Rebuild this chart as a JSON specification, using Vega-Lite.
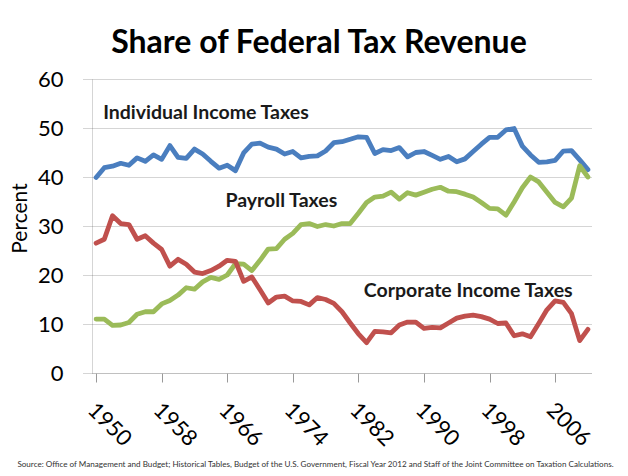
{
  "$schema": "https://vega.github.io/schema/vega-lite/v6.json",
  "description": "Share of federal tax revenue by source, 1950-2010.",
  "width": 500,
  "height": 294,
  "autosize": "none",
  "padding": {"left": 92, "top": 79, "right": 36, "bottom": 103},
  "background": "white",
  "config": {"font": "Lato", "view": {"stroke": null}},
  "title": {
    "text": "Share of Federal Tax Revenue",
    "fontSize": 32,
    "fontWeight": "bold",
    "color": "#000000",
    "anchor": "middle",
    "baseline": "alphabetic",
    "offset": 25,
    "dx": -23,
    "dy": 42
  },
  "layer": [
    {
      "data": {
        "values": [
          {"year": 1950, "Individual": 39.9, "Payroll": 11.0, "Corporate": 26.5},
          {"year": 1951, "Individual": 41.9, "Payroll": 11.0, "Corporate": 27.3},
          {"year": 1952, "Individual": 42.2, "Payroll": 9.7, "Corporate": 32.1},
          {"year": 1953, "Individual": 42.8, "Payroll": 9.8, "Corporate": 30.5},
          {"year": 1954, "Individual": 42.4, "Payroll": 10.3, "Corporate": 30.3},
          {"year": 1955, "Individual": 43.9, "Payroll": 12.0, "Corporate": 27.3},
          {"year": 1956, "Individual": 43.2, "Payroll": 12.5, "Corporate": 28.0},
          {"year": 1957, "Individual": 44.5, "Payroll": 12.5, "Corporate": 26.5},
          {"year": 1958, "Individual": 43.6, "Payroll": 14.1, "Corporate": 25.2},
          {"year": 1959, "Individual": 46.4, "Payroll": 14.8, "Corporate": 21.8},
          {"year": 1960, "Individual": 44.0, "Payroll": 15.9, "Corporate": 23.2},
          {"year": 1961, "Individual": 43.8, "Payroll": 17.4, "Corporate": 22.2},
          {"year": 1962, "Individual": 45.7, "Payroll": 17.1, "Corporate": 20.6},
          {"year": 1963, "Individual": 44.7, "Payroll": 18.6, "Corporate": 20.3},
          {"year": 1964, "Individual": 43.2, "Payroll": 19.5, "Corporate": 20.9},
          {"year": 1965, "Individual": 41.8, "Payroll": 19.1, "Corporate": 21.8},
          {"year": 1966, "Individual": 42.4, "Payroll": 20.0, "Corporate": 23.0},
          {"year": 1967, "Individual": 41.3, "Payroll": 22.3, "Corporate": 22.8},
          {"year": 1968, "Individual": 44.9, "Payroll": 22.2, "Corporate": 18.7},
          {"year": 1969, "Individual": 46.7, "Payroll": 20.9, "Corporate": 19.6},
          {"year": 1970, "Individual": 46.9, "Payroll": 23.0, "Corporate": 17.0},
          {"year": 1971, "Individual": 46.1, "Payroll": 25.3, "Corporate": 14.3},
          {"year": 1972, "Individual": 45.7, "Payroll": 25.4, "Corporate": 15.5},
          {"year": 1973, "Individual": 44.7, "Payroll": 27.3, "Corporate": 15.7},
          {"year": 1974, "Individual": 45.2, "Payroll": 28.5, "Corporate": 14.7},
          {"year": 1975, "Individual": 43.9, "Payroll": 30.3, "Corporate": 14.6},
          {"year": 1976, "Individual": 44.2, "Payroll": 30.5, "Corporate": 13.9},
          {"year": 1977, "Individual": 44.3, "Payroll": 29.9, "Corporate": 15.4},
          {"year": 1978, "Individual": 45.3, "Payroll": 30.3, "Corporate": 15.0},
          {"year": 1979, "Individual": 47.0, "Payroll": 30.0, "Corporate": 14.2},
          {"year": 1980, "Individual": 47.2, "Payroll": 30.5, "Corporate": 12.5},
          {"year": 1981, "Individual": 47.7, "Payroll": 30.5, "Corporate": 10.2},
          {"year": 1982, "Individual": 48.2, "Payroll": 32.6, "Corporate": 8.0},
          {"year": 1983, "Individual": 48.1, "Payroll": 34.8, "Corporate": 6.2},
          {"year": 1984, "Individual": 44.8, "Payroll": 35.9, "Corporate": 8.5},
          {"year": 1985, "Individual": 45.6, "Payroll": 36.1, "Corporate": 8.4},
          {"year": 1986, "Individual": 45.4, "Payroll": 36.9, "Corporate": 8.2},
          {"year": 1987, "Individual": 46.0, "Payroll": 35.5, "Corporate": 9.8},
          {"year": 1988, "Individual": 44.1, "Payroll": 36.8, "Corporate": 10.4},
          {"year": 1989, "Individual": 45.0, "Payroll": 36.3, "Corporate": 10.4},
          {"year": 1990, "Individual": 45.2, "Payroll": 36.9, "Corporate": 9.1},
          {"year": 1991, "Individual": 44.4, "Payroll": 37.5, "Corporate": 9.3},
          {"year": 1992, "Individual": 43.6, "Payroll": 37.9, "Corporate": 9.2},
          {"year": 1993, "Individual": 44.2, "Payroll": 37.1, "Corporate": 10.2},
          {"year": 1994, "Individual": 43.1, "Payroll": 37.0, "Corporate": 11.2},
          {"year": 1995, "Individual": 43.7, "Payroll": 36.5, "Corporate": 11.6},
          {"year": 1996, "Individual": 45.2, "Payroll": 35.9, "Corporate": 11.8},
          {"year": 1997, "Individual": 46.7, "Payroll": 34.8, "Corporate": 11.5},
          {"year": 1998, "Individual": 48.1, "Payroll": 33.6, "Corporate": 11.0},
          {"year": 1999, "Individual": 48.1, "Payroll": 33.5, "Corporate": 10.1},
          {"year": 2000, "Individual": 49.6, "Payroll": 32.2, "Corporate": 10.2},
          {"year": 2001, "Individual": 49.9, "Payroll": 34.9, "Corporate": 7.6},
          {"year": 2002, "Individual": 46.3, "Payroll": 37.8, "Corporate": 8.0},
          {"year": 2003, "Individual": 44.5, "Payroll": 40.0, "Corporate": 7.4},
          {"year": 2004, "Individual": 43.0, "Payroll": 39.0, "Corporate": 10.1},
          {"year": 2005, "Individual": 43.1, "Payroll": 36.9, "Corporate": 12.9},
          {"year": 2006, "Individual": 43.4, "Payroll": 34.8, "Corporate": 14.7},
          {"year": 2007, "Individual": 45.3, "Payroll": 33.9, "Corporate": 14.4},
          {"year": 2008, "Individual": 45.4, "Payroll": 35.7, "Corporate": 12.1},
          {"year": 2009, "Individual": 43.5, "Payroll": 42.3, "Corporate": 6.6},
          {"year": 2010, "Individual": 41.5, "Payroll": 40.0, "Corporate": 8.9}
        ]
      },
      "transform": [
        {"fold": ["Individual", "Payroll", "Corporate"], "as": ["series", "value"]}
      ],
      "mark": {"type": "line", "strokeWidth": 4.8, "strokeJoin": "round", "strokeCap": "round"},
      "encoding": {
        "x": {
          "field": "year",
          "type": "quantitative",
          "scale": {"domain": [1949.5, 2010.5], "nice": false, "zero": false},
          "axis": {
            "values": [1950, 1958, 1966, 1974, 1982, 1990, 1998, 2006],
            "format": "d",
            "grid": false,
            "labelAngle": 45,
            "labelAlign": "left",
            "labelBaseline": "top",
            "labelFontSize": 22,
            "labelColor": "#000000",
            "labelOffset": 2,
            "labelPadding": 17,
            "labelOverlap": false,
            "labelFlush": false,
            "labelBound": false,
            "tickSize": 9,
            "tickColor": "#999999",
            "domainColor": "#aaaaaa",
            "domainDash": [1, 1],
            "title": "Source: Office of Management and Budget; Historical Tables, Budget of the U.S. Government,  Fiscal Year 2012 and Staff of the Joint Committee on Taxation Calculations.",
            "titleFont": "Lato",
            "titleFontSize": 8.1,
            "titleFontWeight": "normal",
            "titleColor": "#333333",
            "titleX": 223,
            "titleY": 93,
            "titleAlign": "center",
            "titleBaseline": "alphabetic"
          }
        },
        "y": {
          "field": "value",
          "type": "quantitative",
          "scale": {"domain": [0, 60], "nice": false},
          "axis": {
            "values": [0, 10, 20, 30, 40, 50, 60],
            "title": "Percent",
            "titleFontSize": 21,
            "titleFontWeight": "normal",
            "titleColor": "#000000",
            "titleX": -72,
            "titleY": 139,
            "titleAngle": -90,
            "titleAlign": "center",
            "titleBaseline": "middle",
            "labelFontSize": 22,
            "labelColor": "#000000",
            "labelPadding": 20,
            "tickSize": 9,
            "tickColor": "#aaaaaa",
            "tickDash": [1, 1],
            "domainColor": "#aaaaaa",
            "domainDash": [1, 1],
            "grid": true,
            "gridColor": "#aaaaaa",
            "gridDash": [1, 1],
            "gridWidth": 1
          }
        },
        "color": {
          "field": "series",
          "type": "nominal",
          "scale": {
            "domain": ["Individual", "Payroll", "Corporate"],
            "range": ["#4a7ebf", "#9bbb59", "#c0504d"]
          },
          "legend": null
        }
      }
    },
    {
      "data": {
        "values": [
          {"year": 1963.4, "value": 53.1, "label": "Individual Income Taxes"},
          {"year": 1972.6, "value": 35.1, "label": "Payroll Taxes"},
          {"year": 1995.4, "value": 16.7, "label": "Corporate Income Taxes"}
        ]
      },
      "mark": {
        "type": "text",
        "fontSize": 19.5,
        "fontWeight": "bold",
        "color": "#1a1a1a",
        "align": "center",
        "baseline": "middle"
      },
      "encoding": {
        "x": {"field": "year", "type": "quantitative"},
        "y": {"field": "value", "type": "quantitative"},
        "text": {"field": "label"}
      }
    }
  ]
}
